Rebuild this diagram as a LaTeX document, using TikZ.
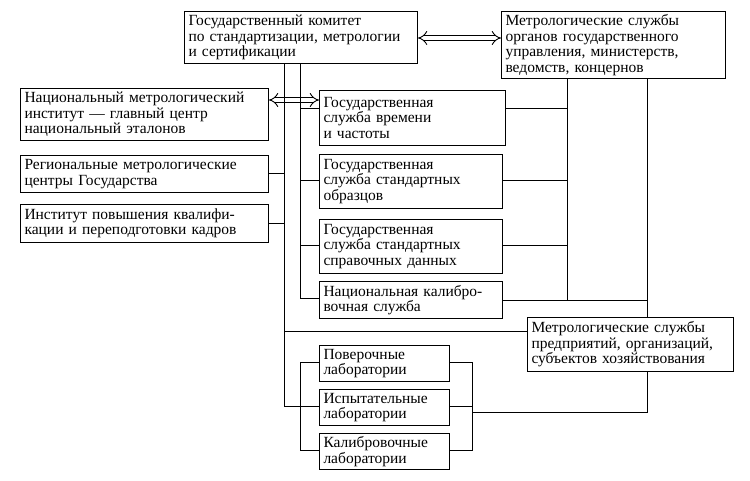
\documentclass[tikz,border=0pt]{standalone}
\usepackage{fontspec}
\setmainfont{Liberation Serif}
\usetikzlibrary{arrows.meta}
\begin{document}
\begin{tikzpicture}[x=1pt,y=-1pt,line width=1pt,
  box/.style={draw,anchor=north west,inner xsep=4pt,inner ysep=1pt,align=left,
    font=\fontsize{15.5}{15.5}\selectfont},
  dbl/.style={double distance=4pt,line width=0.9pt,{Implies[length=8pt]}-{Implies[length=8pt]}}]
\useasboundingbox (0,0) rectangle (750,481);
\newcommand\bx[6]{\node[box,minimum width=#4-#2,minimum height=#5-#3,text width=#4-#2-8] (#1) at (#2,#3) {#6};}
\bx{gk}{184}{11}{417}{63}{Государственный комитет\\по стандартизации, метрологии\\и сертификации}
\bx{ms}{501}{11}{725}{78}{Метрологические службы\\органов государственного\\управления, министерств,\\ведомств, концернов}
\bx{nmi}{20}{88}{268}{140}{Национальный метрологический\\институт — главный центр\\национальный эталонов}
\bx{reg}{20}{155}{268}{192}{Региональные метрологические\\центры Государства}
\bx{inst}{20}{204}{268}{242}{Институт повышения квалифи-\\кации и переподготовки кадров}
\bx{time}{319}{90}{505}{145}{Государственная\\служба времени\\и частоты}
\bx{obr}{319}{154}{502}{208}{Государственная\\служба стандартных\\образцов}
\bx{spr}{319}{219}{502}{273}{Государственная\\служба стандартных\\справочных данных}
\bx{ncs}{319}{281}{502}{318}{Национальная калибро-\\вочная служба}
\bx{ent}{527}{317}{733}{371}{Метрологические службы\\предприятий, организаций,\\субъектов хозяйствования}
\bx{pov}{319}{345}{449}{381}{Поверочные\\лаборатории}
\bx{isp}{319}{389}{449}{425}{Испытательные\\лаборатории}
\bx{kal}{319}{433}{449}{469}{Калибровочные\\лаборатории}
% arrows
\draw[dbl] (gk.east |- 0,38) -- (ms.west |- 0,38);
\draw[dbl] (nmi.east |- 0,100) -- (time.west |- 0,100);
% verticals from committee
\draw (gk.south -| 284,0) -- (284,406) -- (isp.west |- 0,406);
\draw (gk.south -| 300,0) -- (300,298) -- (ncs.west |- 0,298);
\draw (reg.east |- 0,174) -- (284,174);
\draw (inst.east |- 0,224) -- (284,224);
\draw (300,109) -- (time.west |- 0,109);
\draw (300,181) -- (obr.west |- 0,181);
\draw (300,246) -- (spr.west |- 0,246);
\draw (284,331) -- (ent.west |- 0,331);
% right side
\draw (ms.south -| 567,0) -- (567,300);
\draw (ms.south -| 647,0) -- (ent.north -| 647,0);
\draw (time.east |- 0,109) -- (567,109);
\draw (obr.east |- 0,181) -- (567,181);
\draw (spr.east |- 0,246) -- (567,246);
\draw (ncs.east |- 0,300) -- (647,300);
\draw (ent.south -| 647,0) -- (647,412) -- (472,412);
% lab brackets
\draw (pov.west |- 0,362) -- (300,362) -- (300,450) -- (kal.west |- 0,450);
\draw (pov.east |- 0,362) -- (472,362) -- (472,450) -- (kal.east |- 0,450);
\draw (isp.east |- 0,406) -- (472,406);
\end{tikzpicture}
\end{document}
